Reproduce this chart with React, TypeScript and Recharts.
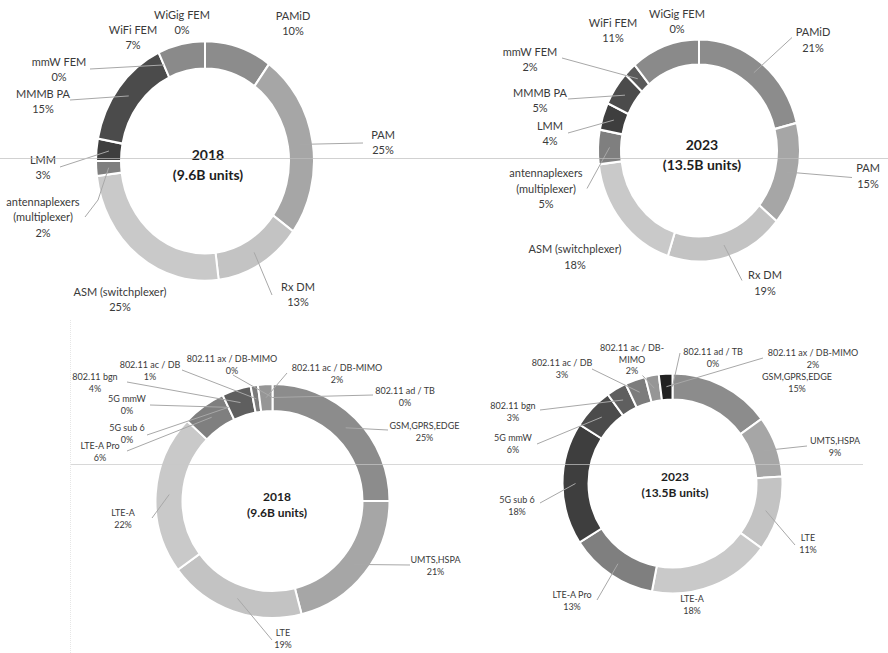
import React from 'react';
import { PieChart, Pie, Cell, Sector } from 'recharts';

// RF front-end module / standard split, 2018 vs 2023
const FONT = 'Lato, "Open Sans", sans-serif';

const MODULE_NAMES = [
  'PAMiD', 'PAM', 'Rx DM', 'ASM (switchplexer)', 'antennaplexers (multiplexer)',
  'LMM', 'MMMB PA', 'mmW FEM', 'WiFi FEM', 'WiGig FEM',
];
const MODULE_2018 = [10, 25, 13, 25, 2, 3, 15, 0, 7, 0];
const MODULE_2023 = [21, 15, 19, 18, 5, 4, 5, 2, 11, 0];
const MODULE_GRAYS = [
  '#8c8c8c', '#a6a6a6', '#c3c3c3', '#c9c9c9', '#7f7f7f',
  '#3e3e3e', '#4b4b4b', '#5a5a5a', '#8a8a8a', '#aaaaaa',
];

const STANDARD_NAMES = [
  'GSM,GPRS,EDGE', 'UMTS,HSPA', 'LTE', 'LTE-A', 'LTE-A Pro', '5G sub 6', '5G mmW',
  '802.11 bgn', '802.11 ac / DB', '802.11 ac / DB-MIMO', '802.11 ax / DB-MIMO', '802.11 ad / TB',
];
const STANDARD_2018 = [25, 21, 19, 22, 6, 0, 0, 4, 1, 2, 0, 0];
const STANDARD_2023 = [15, 9, 11, 18, 13, 18, 6, 3, 3, 2, 2, 0];
const STANDARD_GRAYS = [
  '#8c8c8c', '#a6a6a6', '#c3c3c3', '#c9c9c9', '#7f7f7f', '#3e3e3e', '#4b4b4b',
  '#5f5f5f', '#7c7c7c', '#969696', '#222222', '#777777',
];

const YEARS = ['2018', '2023'];
const UNITS = ['(9.6B units)', '(13.5B units)'];

// label placement (offsets from the ring centre): t = text, s = leader start, b = elbow
type Spot = { t: [number, number]; s?: [number, number]; b?: [number, number]; lines?: string[] };

const TOP_2018_SPOTS: Spot[] = [
  { t: [88, -145] },
  { t: [178, -26], s: [158, -18] },
  { t: [93, 126], s: [67, 134] },
  { t: [-85, 131] },
  { t: [-162, 41], s: [-120, 56], b: [-107, 39], lines: ['antennaplexers', '(multiplexer)'] },
  { t: [-162, -1], s: [-145, 6] },
  { t: [-162, -67], s: [-135, -61] },
  { t: [-146, -99], s: [-115, -92] },
  { t: [-72, -131] },
  { t: [-23, -146] },
];
const TOP_2023_SPOTS: Spot[] = [
  { t: [114, -118], s: [93, -113] },
  { t: [169, 18], s: [153, 27] },
  { t: [66, 125], s: [43, 130] },
  { t: [-124, 99] },
  { t: [-153, 23], s: [-112, 38], lines: ['antennaplexers', '(multiplexer)'] },
  { t: [-149, -24.5], s: [-131, -17.5] },
  { t: [-159, -57.5], s: [-131, -51.5] },
  { t: [-169, -98.5], s: [-137, -92.5] },
  { t: [-86, -127.5] },
  { t: [-22, -136.5] },
];
const BOTTOM_2018_SPOTS: Spot[] = [
  { t: [152, -75], s: [115.5, -71] },
  { t: [163, 59], s: [137.5, 64] },
  { t: [10.5, 132], s: [-0.5, 139] },
  { t: [-149.5, 12], s: [-120.5, 17] },
  { t: [-172.5, -55], s: [-145.5, -50] },
  { t: [-145.5, -73], s: [-125.5, -66] },
  { t: [-145.5, -102], s: [-122.5, -96] },
  { t: [-177.5, -124], s: [-145.5, -119] },
  { t: [-122.5, -136], s: [-90.5, -131] },
  { t: [64.5, -133], s: [14.5, -128] },
  { t: [-40.5, -142], s: [-39.5, -126] },
  { t: [132.5, -110], s: [100.5, -106] },
];
const BOTTOM_2023_SPOTS: Spot[] = [
  { t: [124.5, -106.5] },
  { t: [162.5, -42.5], s: [134.5, -37.5] },
  { t: [135.5, 54.5], s: [122.5, 61.5] },
  { t: [19.5, 115.5] },
  { t: [-100.5, 111.5], s: [-75.5, 116.5] },
  { t: [-155.5, 16.5], s: [-132.5, 19.5] },
  { t: [-159.5, -45.5], s: [-135.5, -39.5] },
  { t: [-159.5, -77.5], s: [-132.5, -73.5] },
  { t: [-110.5, -120.5], s: [-80.5, -114.5] },
  { t: [-40.5, -135.5], s: [-30, -108], lines: ['802.11 ac / DB-', 'MIMO'] },
  { t: [140.5, -130.5], s: [90.5, -125.5] },
  { t: [40.5, -131.5], s: [7.5, -130.5] },
];

type Title = { lines: string[]; dx: number; dy: number; fs: number; lh: number };

// top rings are slightly taller than wide in the source
const ellipse = (k: number) => (props: any) => (
  <g transform={`translate(0 ${props.cy * (1 - k)}) scale(1 ${k})`}>
    <Sector {...props} />
  </g>
);

function makeLabel(
  names: string[], values: number[], spots: Spot[], k: number,
  fs: number, lh: number, title: Title,
) {
  return (p: any) => {
    const { cx, cy, midAngle, innerRadius, outerRadius, index } = p;
    const spot = spots[index];
    if (!spot) return null;
    const rm = (innerRadius + outerRadius) / 2;
    const a = (-midAngle * Math.PI) / 180;
    const px = cx + rm * Math.cos(a);
    const py = cy + k * rm * Math.sin(a);
    const lines = [...(spot.lines ?? [names[index]]), `${values[index]}%`];
    const tx = cx + spot.t[0];
    const ty = cy + spot.t[1] + fs * 0.36;
    const pts: number[][] = [[px, py]];
    if (spot.b) pts.push([cx + spot.b[0], cy + spot.b[1]]);
    if (spot.s) pts.push([cx + spot.s[0], cy + spot.s[1]]);
    const ttx = cx + title.dx;
    const tty = cy + title.dy + title.fs * 0.36;
    return (
      <g>
        {spot.s && (
          <polyline
            points={pts.map(q => q.join(',')).join(' ')}
            fill="none" stroke="#a8a8a8" strokeWidth={1}
          />
        )}
        <text x={tx} y={ty} textAnchor="middle" fontSize={fs} fill="#3a3a3a" fontFamily={FONT}>
          {lines.map((l, i) => (
            <tspan key={i} x={tx} dy={i === 0 ? 0 : lh}>{l}</tspan>
          ))}
        </text>
        {index === 0 && (
          <text x={ttx} y={tty} textAnchor="middle" fontSize={title.fs} fontWeight={700}
            fill="#1e1e1e" fontFamily={FONT}>
            {title.lines.map((l, i) => (
              <tspan key={i} x={ttx} dy={i === 0 ? 0 : title.lh}>{l}</tspan>
            ))}
          </text>
        )}
      </g>
    );
  };
}

const toRows = (names: string[], values: number[]) =>
  names.map((name, i) => ({ name, value: values[i] }));

export default function App() {
  const topShape = ellipse(1.1);
  return (
    <div style={{ position: 'relative', width: 888, height: 653, background: '#fff', overflow: 'hidden' }}>
      <style>{'body{margin:0;}'}</style>
      <PieChart width={888} height={653} margin={{ top: 0, right: 0, bottom: 0, left: 0 }}>
        <Pie
          data={toRows(MODULE_NAMES, MODULE_2018)} dataKey="value" nameKey="name"
          cx={205} cy={161} innerRadius={84} outerRadius={109}
          startAngle={90} endAngle={-270} stroke="#ffffff" strokeWidth={2}
          isAnimationActive={false} labelLine={false}
          shape={topShape} inactiveShape={topShape}
          label={makeLabel(MODULE_NAMES, MODULE_2018, TOP_2018_SPOTS, 1.1, 11, 15.5,
            { lines: [YEARS[0], UNITS[0]], dx: 3, dy: -6, fs: 14, lh: 20 })}
        >
          {MODULE_GRAYS.map((c, i) => <Cell key={i} fill={c} />)}
        </Pie>
        <Pie
          data={toRows(MODULE_NAMES, MODULE_2023)} dataKey="value" nameKey="name"
          cx={699} cy={150.5} innerRadius={78} outerRadius={101}
          startAngle={90} endAngle={-270} stroke="#ffffff" strokeWidth={2}
          isAnimationActive={false} labelLine={false}
          shape={topShape} inactiveShape={topShape}
          label={makeLabel(MODULE_NAMES, MODULE_2023, TOP_2023_SPOTS, 1.1, 11, 15.5,
            { lines: [YEARS[1], UNITS[1]], dx: 3, dy: -5.5, fs: 14, lh: 20 })}
        >
          {MODULE_GRAYS.map((c, i) => <Cell key={i} fill={c} />)}
        </Pie>
        <Pie
          data={toRows(STANDARD_NAMES, STANDARD_2018)} dataKey="value" nameKey="name"
          cx={272.5} cy={501} innerRadius={90} outerRadius={117}
          startAngle={90} endAngle={-270} stroke="#ffffff" strokeWidth={2}
          isAnimationActive={false} labelLine={false}
          label={makeLabel(STANDARD_NAMES, STANDARD_2018, BOTTOM_2018_SPOTS, 1, 9, 11.5,
            { lines: [YEARS[0], UNITS[0]], dx: 4.5, dy: -4, fs: 12, lh: 16 })}
        >
          {STANDARD_GRAYS.map((c, i) => <Cell key={i} fill={c} />)}
        </Pie>
        <Pie
          data={toRows(STANDARD_NAMES, STANDARD_2023)} dataKey="value" nameKey="name"
          cx={672.5} cy={483.5} innerRadius={84} outerRadius={110}
          startAngle={90} endAngle={-270} stroke="#ffffff" strokeWidth={2}
          isAnimationActive={false} labelLine={false}
          label={makeLabel(STANDARD_NAMES, STANDARD_2023, BOTTOM_2023_SPOTS, 1, 9, 11.5,
            { lines: [YEARS[1], UNITS[1]], dx: 2.5, dy: -6.5, fs: 12, lh: 16 })}
        >
          {STANDARD_GRAYS.map((c, i) => <Cell key={i} fill={c} />)}
        </Pie>
      </PieChart>
      {/* faint scan rules from the source slide */}
      <div style={{ position: 'absolute', left: 0, top: 158, width: 888, height: 1, background: 'rgba(190,190,190,0.7)' }} />
      <div style={{ position: 'absolute', left: 70, top: 464, width: 793, height: 1, background: 'rgba(200,200,200,0.7)' }} />
      <div style={{ position: 'absolute', left: 70, top: 320, width: 0, height: 333, borderLeft: '1px dotted #e6e6e6' }} />
    </div>
  );
}
